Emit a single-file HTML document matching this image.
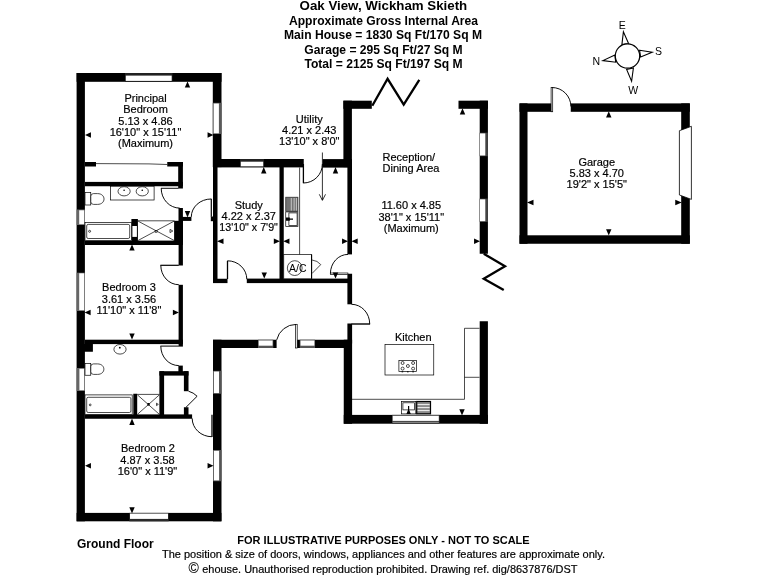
<!DOCTYPE html>
<html>
<head>
<meta charset="utf-8">
<title>Oak View, Wickham Skieth - Floor Plan</title>
<style>
html,body{margin:0;padding:0;background:#fff;}
body{width:768px;height:576px;overflow:hidden;font-family:"Liberation Sans",sans-serif;}
svg{display:block;position:absolute;left:0;top:0;will-change:transform;opacity:0.999;}
text{font-family:"Liberation Sans",sans-serif;fill:#000;}
.b{font-weight:bold;fill:#000;}
.r{font-size:11px;text-anchor:middle;}
.r text,.n{stroke:#000;stroke-width:0.18px;}
.w{fill:#000;stroke:none;}
.t{fill:none;stroke:#000;stroke-width:0.7;}
.tf{fill:#fff;stroke:#000;stroke-width:0.7;}
.win{fill:#fff;stroke:#000;stroke-width:0.8;}
.a{fill:#000;stroke:none;}
.d{fill:none;stroke:#000;stroke-width:0.95;}
.bf{fill:none;stroke:#000;stroke-width:2.3;stroke-linejoin:miter;}
</style>
</head>
<body>
<svg width="768" height="576" viewBox="0 0 768 576">
<rect x="0" y="0" width="768" height="576" fill="#fff"/>

<!-- ===== TITLE ===== -->
<g id="title" class="b" text-anchor="middle">
<text x="383.4" y="10" font-size="13.3" class="b">Oak View, Wickham Skieth</text>
<text x="383.5" y="25" font-size="12.1" class="b">Approximate Gross Internal Area</text>
<text x="383" y="39" font-size="12.1" class="b">Main House = 1830 Sq Ft/170 Sq M</text>
<text x="383.5" y="54" font-size="12.1" class="b">Garage = 295 Sq Ft/27 Sq M</text>
<text x="383.5" y="68" font-size="12.1" class="b">Total = 2125 Sq Ft/197 Sq M</text>
</g>

<!-- ===== FOOTER ===== -->
<g id="footer">
<text x="77" y="548" font-size="12" class="b">Ground Floor</text>
<text x="383.5" y="543.5" font-size="11" class="b" text-anchor="middle">FOR ILLUSTRATIVE PURPOSES ONLY - NOT TO SCALE</text>
<text x="383.5" y="558" font-size="11" text-anchor="middle" class="n">The position &amp; size of doors, windows, appliances and other features are approximate only.</text>
<text x="188.4" y="573" font-size="14" class="n" style="stroke-width:0.1px">©</text><text x="577.4" y="572.5" font-size="10.95" text-anchor="end" class="n">ehouse. Unauthorised reproduction prohibited. Drawing ref. dig/8637876/DST</text>
</g>

<!-- ===== WALLS ===== -->
<g id="walls" class="w">
<!-- bedroom wing outer -->
<rect x="76.6" y="73" width="144.9" height="8.8"/>
<rect x="76.6" y="73" width="8.3" height="448.3"/>
<rect x="212.8" y="73" width="8.7" height="94.1"/>
<rect x="76.6" y="512.9" width="144.8" height="8.4"/>
<rect x="213" y="339.75" width="8.5" height="181.55"/>
<!-- study / utility top -->
<rect x="213" y="159" width="90.75" height="8.4"/>
<rect x="322.7" y="159.1" width="29.2" height="8.5"/>
<!-- reception -->
<rect x="343.4" y="100.7" width="8.5" height="66.4"/><rect x="347.4" y="167" width="4.6" height="87.4"/>
<rect x="343.4" y="100.7" width="28.4" height="8.1"/>
<rect x="458.5" y="100.7" width="29.4" height="8.1"/>
<rect x="479.7" y="100.7" width="8.2" height="153.05"/>
<rect x="479.7" y="321.25" width="8.2" height="102.5"/>
<rect x="343.75" y="414.9" width="144.15" height="8.8"/>
<rect x="343.75" y="339.75" width="8.35" height="84"/>
<rect x="347.4" y="273.75" width="4.7" height="30.55"/>
<rect x="347.4" y="323.5" width="4.7" height="20"/>
<!-- corridor bottom wall -->
<rect x="213" y="339.75" width="139" height="8.25"/>
<!-- study -->
<rect x="213" y="167" width="4.5" height="115.5"/>
<rect x="213" y="278.75" width="14.5" height="4.35"/>
<rect x="246.8" y="278.6" width="105.2" height="4.5"/>
<rect x="279.5" y="167" width="4.25" height="115.5"/>
<!-- wardrobe / ensuite -->
<rect x="85" y="162" width="11" height="4.5"/>
<rect x="167.25" y="162" width="15.65" height="4.5"/>
<rect x="178.2" y="162" width="4.7" height="26.5"/>
<rect x="85" y="181.9" width="97.9" height="4.35"/>
<rect x="178.5" y="208" width="4.4" height="37"/>
<rect x="180" y="216.9" width="11.4" height="4"/><rect x="174.1" y="220.8" width="8.8" height="21"/>
<rect x="85" y="240.6" width="97.9" height="4.4"/>
<rect x="131.4" y="219" width="6.5" height="22"/><rect x="132.4" y="226" width="4.5" height="10.9" fill="#fff"/>
<!-- bed 3 -->
<rect x="178.6" y="245" width="4.3" height="20.5"/>
<rect x="178.6" y="284.8" width="4.3" height="61.8"/>
<rect x="85" y="339.7" width="97.9" height="4.4"/>
<rect x="77" y="344" width="15.9" height="7.75"/>
<rect x="178.4" y="365.6" width="4.4" height="6.5"/>
<!-- cupboard -->
<rect x="159.4" y="371.2" width="4.7" height="44"/>
<rect x="159.4" y="371.2" width="29.1" height="4.4"/>
<rect x="183.9" y="371.2" width="4.6" height="20"/>
<rect x="183.9" y="407.25" width="4.6" height="8"/>
<!-- bath 2 -->
<rect x="85" y="414.4" width="107.1" height="4.35"/>
<rect x="133.3" y="393.75" width="3.9" height="21.25"/>
<!-- garage -->
<rect x="519.5" y="103.4" width="170.3" height="8.4"/>
<rect x="519.5" y="103.4" width="8" height="140.35"/>
<rect x="681.2" y="103.4" width="8.6" height="140.35"/>
<rect x="519.5" y="235.3" width="170.3" height="8.45"/>
</g>

<!-- ===== WINDOWS ===== -->
<g id="windows">
<!-- horizontal windows: black frame strip + white pane -->
<g id="win-principal-top"><rect x="125" y="73" width="47.5" height="8.8" fill="#222"/><rect x="125.8" y="75.6" width="45.9" height="5.3" fill="#fff"/></g>
<g id="win-study-top"><rect x="240" y="159" width="24" height="8.1" fill="#222"/><rect x="240.8" y="161.7" width="22.4" height="4.6" fill="#fff"/></g>
<g id="win-bed2-bottom"><rect x="129.3" y="512.9" width="39.4" height="8.4" fill="#2a2a2a"/><rect x="130" y="513.6" width="38" height="5.3" fill="#fff"/></g>
<g id="win-kitchen-bottom"><rect x="392" y="414.9" width="47.5" height="8.8" fill="#3a3a3a"/><rect x="392.7" y="415.8" width="46.1" height="5.1" fill="#fff"/><rect x="392.7" y="421.9" width="46.1" height="0.6" fill="#ccc"/></g>
<g id="win-corr-1"><rect x="258" y="339.75" width="15.3" height="8.25" fill="#555"/><rect x="258.7" y="340.5" width="13.9" height="5.2" fill="#fff"/></g>
<g id="win-corr-2"><rect x="299.75" y="339.75" width="15.3" height="8.25" fill="#555"/><rect x="300.5" y="340.5" width="13.9" height="5.2" fill="#fff"/></g><rect id="hall-door-gap" x="276.6" y="339" width="19.4" height="9.6" fill="#fff"/>
<!-- vertical windows -->
<g id="win-principal-right"><rect x="212.8" y="102.8" width="8.7" height="31.2" fill="#5a5a5a"/><rect x="213.7" y="103.5" width="5.2" height="29.8" fill="#fff"/></g>
<g id="win-ensuite-left"><rect x="76.6" y="209.5" width="8.3" height="15.5" fill="#666"/><rect x="79.2" y="210.3" width="5" height="13.9" fill="#fff"/></g>
<g id="win-bed3-left"><rect x="76.6" y="272.7" width="8.3" height="38.3" fill="#666"/><rect x="79.2" y="273.3" width="5" height="36.9" fill="#fff"/></g>
<g id="win-bath2-left"><rect x="76.6" y="368" width="8.3" height="23" fill="#666"/><rect x="79.4" y="368.8" width="4.8" height="21.4" fill="#fff"/></g>
<g id="win-bed2-right"><rect x="213" y="450" width="8.4" height="31.25" fill="#555"/><rect x="213.9" y="450.8" width="5.2" height="29.6" fill="#fff"/></g>
<g id="win-hall-left"><rect x="213" y="370.8" width="8.4" height="23" fill="#555"/><rect x="213.9" y="371.5" width="5.1" height="21.6" fill="#fff"/></g>
<g id="win-recep-r1"><rect x="479.7" y="132.7" width="8.2" height="23.5" fill="#444"/><rect x="480" y="133.4" width="5.3" height="22.1" fill="#fff"/></g>
<g id="win-recep-r2"><rect x="479.7" y="198.6" width="8.2" height="23.3" fill="#444"/><rect x="480" y="199.3" width="5.3" height="21.9" fill="#fff"/></g>
</g>

<!-- ===== DOORS ===== -->
<g id="doors" class="d">
<!-- ensuite door -->
<path d="M161 188.3 H178.5 M161.2 188.3 A18.5 19.8 0 0 0 179.7 208.1"/>
<!-- principal bedroom door -->
<path d="M191.3 216.9 A19.8 17.9 0 0 1 211.1 199"/><path d="M211.3 198.8 V216.7" stroke-width="1.2"/><path d="M211.9 216.5 V221.2" stroke-width="2.2"/>
<!-- bed 3 door -->
<path d="M160.8 265.3 A18 19.4 0 0 0 178.8 284.7"/><path d="M160.4 265.3 H178.8" stroke-width="1.2"/>
<!-- bath 2 door -->
<path d="M160.8 346.2 A18 19.4 0 0 0 178.8 365.6"/><path d="M160.4 346.1 H178.8" stroke-width="1"/>
<!-- cupboard door -->
<path d="M188.5 391.2 Q193.5 392.5 197.1 396.25 L186 407.3"/>
<!-- bed 2 door -->
<path d="M192.2 418.4 A19.6 18.3 0 0 0 211.8 436.7"/><path d="M212 414.8 V436.9" stroke-width="1.3"/>
<!-- study door -->
<path d="M227.5 260.8 A19.3 18.4 0 0 1 246.8 279.2"/><path d="M227.5 260.8 V279" stroke-width="1.3"/>
<!-- utility external door -->
<path d="M303.5 183 A19 19 0 0 0 322.4 164"/><path d="M303.4 164 V183.2" stroke-width="1.3"/>
<!-- utility to reception door -->
<path d="M330.4 273.5 A17.6 19.2 0 0 1 348 254.4"/><rect x="330.4" y="273" width="17.5" height="1.5" fill="#fff" stroke-width="0.7"/>
<!-- reception to hall door -->
<path d="M351.5 304.3 A18.2 19.6 0 0 1 369.7 323.9"/><path d="M351.5 324 H370.1" stroke-width="1.4"/>
<!-- hall external door -->
<path d="M296.2 324.4 A20 20 0 0 0 276.7 339.9"/><rect x="295.6" y="324.4" width="1.6" height="23.6" fill="#fff" stroke-width="0.7"/>
<!-- garage door (pedestrian) -->
<rect x="552" y="103" width="18.75" height="9.5" fill="#fff" stroke="none"/><path d="M551.9 87.5 A19 19 0 0 1 570.9 106.5"/><rect x="551.1" y="87.5" width="1.6" height="24.25" fill="#fff" stroke-width="0.7"/>
</g>
<!-- garage up-and-over door -->
<polygon points="679.4,130.7 691.4,126.3 691.4,199.4 679.4,195" fill="#fff" stroke="#000" stroke-width="0.8"/>

<!-- bifold doors -->
<polyline class="bf" points="372.3,105.8 387.6,78.8 403.7,104.6 419.3,79.8"/>
<polyline class="bf" points="483.75,253.75 505,266.25 483.75,278.75 503.75,290"/>

<!-- ===== DIMENSION ARROWS ===== -->
<g id="arrows" class="a">
<!-- principal -->
<polygon points="187.50,81.50 184.80,87.44 190.20,87.44"/>
<polygon points="85.00,135.00 90.94,132.30 90.94,137.70"/>
<polygon points="213.50,135.00 207.56,132.30 207.56,137.70"/>
<polygon points="187.50,217.50 184.80,211.10 190.20,211.10"/>
<!-- ensuite/bed3 -->
<polygon points="132.00,244.50 129.30,250.55 134.70,250.55"/>
<polygon points="84.60,312.50 90.60,309.80 90.60,315.20"/>
<polygon points="178.90,312.50 172.90,309.80 172.90,315.20"/>
<polygon points="132.00,339.50 129.30,333.56 134.70,333.56"/>
<!-- bed 2 -->
<polygon points="132.00,418.50 129.30,424.98 134.70,424.98"/>
<polygon points="85.00,465.75 90.94,463.05 90.94,468.45"/>
<polygon points="213.50,465.75 207.56,463.05 207.56,468.45"/>
<polygon points="132.00,513.40 129.30,507.30 134.70,507.30"/>
<!-- study -->
<polygon points="263.75,167.00 261.05,173.48 266.45,173.48"/>
<polygon points="264.25,278.50 261.55,272.56 266.95,272.56"/>
<polygon points="217.00,241.25 223.48,238.55 223.48,243.95"/>
<polygon points="280.00,241.25 273.79,238.55 273.79,243.95"/>
<!-- utility -->
<polygon points="283.25,241.25 289.46,238.55 289.46,243.95"/>
<polygon points="348.00,241.25 342.06,238.55 342.06,243.95"/>
<polygon points="335.50,167.00 332.80,173.48 338.20,173.48"/>
<polygon points="335.50,278.50 332.80,272.56 338.20,272.56"/>
<!-- reception -->
<polygon points="351.50,241.25 357.71,238.55 357.71,243.95"/>
<polygon points="480.00,241.25 474.06,238.55 474.06,243.95"/>
<polygon points="462.50,108.25 459.80,114.46 465.20,114.46"/>
<polygon points="462.00,415.50 459.30,409.29 464.70,409.29"/>
<!-- garage -->
<polygon points="608.75,111.25 606.05,117.46 611.45,117.46"/>
<polygon points="608.75,235.50 606.05,229.29 611.45,229.29"/>
<polygon points="527.00,202.50 533.48,199.80 533.48,205.20"/>
<polygon points="681.75,202.50 675.27,199.80 675.27,205.20"/>
</g>
<!-- utility entry arrow -->
<path d="M322.4 152.5 V200 M319.3 194.3 L322.4 200.4 L325.5 194.3" fill="none" stroke="#000" stroke-width="0.8"/>

<!-- ===== ROOM LABELS ===== -->
<g id="labels" class="r">
<text x="145.5" y="102.2">Principal</text>
<text x="145.5" y="113.3">Bedroom</text>
<text x="145.5" y="124.6">5.13 x 4.86</text>
<text x="145.5" y="136">16'10" x 15'11"</text>
<text x="145.5" y="147.3">(Maximum)</text>

<text x="129" y="291">Bedroom 3</text>
<text x="129" y="302.6">3.61 x 3.56</text>
<text x="129" y="313.7">11'10" x 11'8"</text>

<text x="147.9" y="452">Bedroom 2</text>
<text x="147.5" y="463.5">4.87 x 3.58</text>
<text x="147.5" y="475">16'0" x 11'9"</text>

<text x="248.75" y="208.8">Study</text>
<text x="248.75" y="219.9">4.22 x 2.37</text>
<text x="248.6" y="231" textLength="58.6" lengthAdjust="spacingAndGlyphs">13'10" x 7'9"</text>

<text x="309.25" y="122.9">Utility</text>
<text x="309.25" y="133.9">4.21 x 2.43</text>
<text x="309.25" y="145.3">13'10" x 8'0"</text>

<text x="382.5" y="161" style="text-anchor:start">Reception/</text>
<text x="382.5" y="172.2" style="text-anchor:start">Dining Area</text>
<text x="411.25" y="209">11.60 x 4.85</text>
<text x="411.25" y="220.7">38'1" x 15'11"</text>
<text x="411.25" y="231.5">(Maximum)</text>

<text x="413.25" y="341">Kitchen</text>

<text x="596.75" y="166">Garage</text>
<text x="596.75" y="177.25">5.83 x 4.70</text>
<text x="596.75" y="187.75">19'2" x 15'5"</text>
</g>

<!-- ===== FIXTURES ===== -->
<g id="fixtures">
<!-- wardrobe sliding door line -->
<path class="t" d="M96 163.6 L149 163.9 L167.25 164.5"/>
<!-- ensuite vanity + basins -->
<rect class="tf" x="110.4" y="186.25" width="43.7" height="13.75"/>
<ellipse class="tf" cx="124.1" cy="191.3" rx="6.1" ry="4.6"/><circle cx="124.1" cy="190.2" r="0.8"/>
<ellipse class="tf" cx="142.25" cy="191.3" rx="6.1" ry="4.6"/><circle cx="142.25" cy="190.2" r="0.8"/>
<!-- ensuite wc -->
<rect class="tf" x="85" y="192.5" width="5.75" height="12.5" stroke="#555"/>
<path class="tf" d="M93.5 193.6 H97.5 C106.2 193.6 106.2 204.4 97.5 204.4 H93.5 Q90.8 204.4 90.8 201.6 V196.4 Q90.8 193.6 93.5 193.6 Z"/>
<!-- ensuite bath -->
<rect class="tf" x="85" y="222.5" width="46.4" height="18.1"/>
<rect class="tf" x="86.7" y="224.4" width="43" height="14.1" rx="1.5"/>
<circle class="tf" cx="89.6" cy="231.3" r="1"/>
<!-- ensuite shower -->
<path class="t" d="M137.9 220.8 H174.5 M138.2 221.2 L174 240.4 M138.2 240.4 L174 221.2"/>
<rect class="tf" x="155.2" y="230.4" width="1.8" height="1.8"/>
<path class="t" d="M170 229.4 L172.8 231 L170 232.6 Z"/>

<!-- bath 2 basin -->
<ellipse class="tf" cx="120" cy="349.3" rx="6.1" ry="4.8"/><circle cx="119.8" cy="347.7" r="0.9"/>
<!-- bath 2 wc -->
<rect class="tf" x="85" y="363.6" width="5.75" height="11.65" stroke="#555"/>
<path class="tf" d="M93.5 363.9 H97.5 C106 363.9 106 374.4 97.5 374.4 H93.5 Q90.8 374.4 90.8 371.6 V366.7 Q90.8 363.9 93.5 363.9 Z"/>
<!-- bath 2 bath -->
<rect class="tf" x="85" y="394.9" width="47.2" height="19.5"/>
<rect class="tf" x="86.7" y="397.3" width="44.2" height="15.2" rx="1.5"/>
<circle class="tf" cx="90.2" cy="404.9" r="0.9"/>
<!-- bath 2 shower -->
<path class="t" d="M137.2 394.4 H159.4 M137.6 395 L159.2 414.2 M137.6 414.2 L159.2 395"/>
<rect class="tf" x="147.7" y="403.5" width="1.8" height="1.8"/>
<path class="t" d="M156.5 403.2 L158.3 404.4 L156.5 405.6 Z"/>

<!-- utility counter -->
<path class="t" d="M299.6 167.5 V254.6"/>
<rect x="285.75" y="197.25" width="12.15" height="14" fill="#747474" stroke="#333" stroke-width="0.8"/>
<path d="M291.3 198 V210.6 M294.1 198 V210.6 M296.4 198 V210.6" stroke="#cfcfcf" stroke-width="0.9" fill="none"/>
<rect class="tf" x="285.75" y="211.9" width="12.15" height="14.6" stroke-width="0.9"/>
<rect class="tf" x="288.9" y="212.9" width="8.2" height="12.6" stroke-width="1.1"/>
<path d="M286 217.6 H289.8 V218.5 H293 V219.8 H289.8 V220.7 H286 Z" fill="#000"/>
<!-- A/C cupboard -->
<rect class="tf" x="283.75" y="254.6" width="27.85" height="24.2"/>
<path d="M311.6 254.6 V278.8" stroke="#000" stroke-width="1.1"/>
<circle class="t" cx="294.75" cy="268.1" r="7.4"/>
<text x="297.8" y="271.6" font-size="10.5" text-anchor="middle" style="fill:#000">A/C</text>
<path class="t" d="M312 260 Q317.5 260.6 320.75 264.6 L312 273.5" stroke-width="0.95"/>

<!-- kitchen island + hob -->
<rect class="tf" x="385" y="344.5" width="48.75" height="30.5" stroke="#222" stroke-width="0.9"/>
<rect class="tf" x="398.9" y="360.6" width="17.7" height="11" stroke-width="0.9"/>
<g class="tf" stroke-width="0.6">
<circle cx="402.6" cy="363" r="1.5"/><circle cx="413.1" cy="363" r="1.5"/>
<circle cx="402.6" cy="368.6" r="1.5"/><circle cx="413.1" cy="368.6" r="1.5"/>
<circle cx="407.9" cy="366" r="1.5"/>
</g>
<path d="M401.6 371.8 h1.6 M407 371.8 h1.6 M412.3 371.8 h1.6" stroke="#000" stroke-width="1"/>
<!-- kitchen worktops -->
<path class="t" d="M352 399.3 H464.5 V328.3 H479.5 M464.5 377.3 H479.5" stroke="#222" stroke-width="0.9"/>
<!-- kitchen sink -->
<rect class="tf" x="401.5" y="401.4" width="14.3" height="12.5" stroke-width="1.2"/>
<rect class="tf" x="402.9" y="402.8" width="11.6" height="7.1" stroke-width="0.8"/>
<rect x="416.7" y="401.5" width="13.8" height="12.3" fill="#8c8c8c" stroke="#000" stroke-width="1.2"/>
<path d="M417.6 404.6 H429.6 M417.6 407.6 H429.6 M417.6 410.6 H429.6" stroke="#f4f4f4" stroke-width="1"/>
<path d="M408 406 h1.2 v4 l1.6 3.9 h-4.4 l1.6 -3.9 Z" fill="#000"/>
</g>

<!-- ===== COMPASS ===== -->
<g id="compass" fill="#fff" stroke="#000" stroke-width="1.1" stroke-linejoin="miter">
<polygon points="621.9,44.6 623.4,31.8 628.6,43.6"/>
<polygon points="639.6,50.3 652.2,52.2 640.6,57"/>
<polygon points="626.6,69.4 631.6,81.2 633.4,68"/>
<polygon points="614.9,55 602.9,60.6 615.7,62.2"/>
<circle cx="627.5" cy="56" r="12.2" stroke-width="1.2"/>
</g>
<g font-size="10.5" text-anchor="middle" style="fill:#000">
<text x="622.3" y="29.2">E</text>
<text x="658.6" y="54.6">S</text>
<text x="633.2" y="94">W</text>
<text x="596.4" y="65.4">N</text>
</g>

</svg>
</body>
</html>
